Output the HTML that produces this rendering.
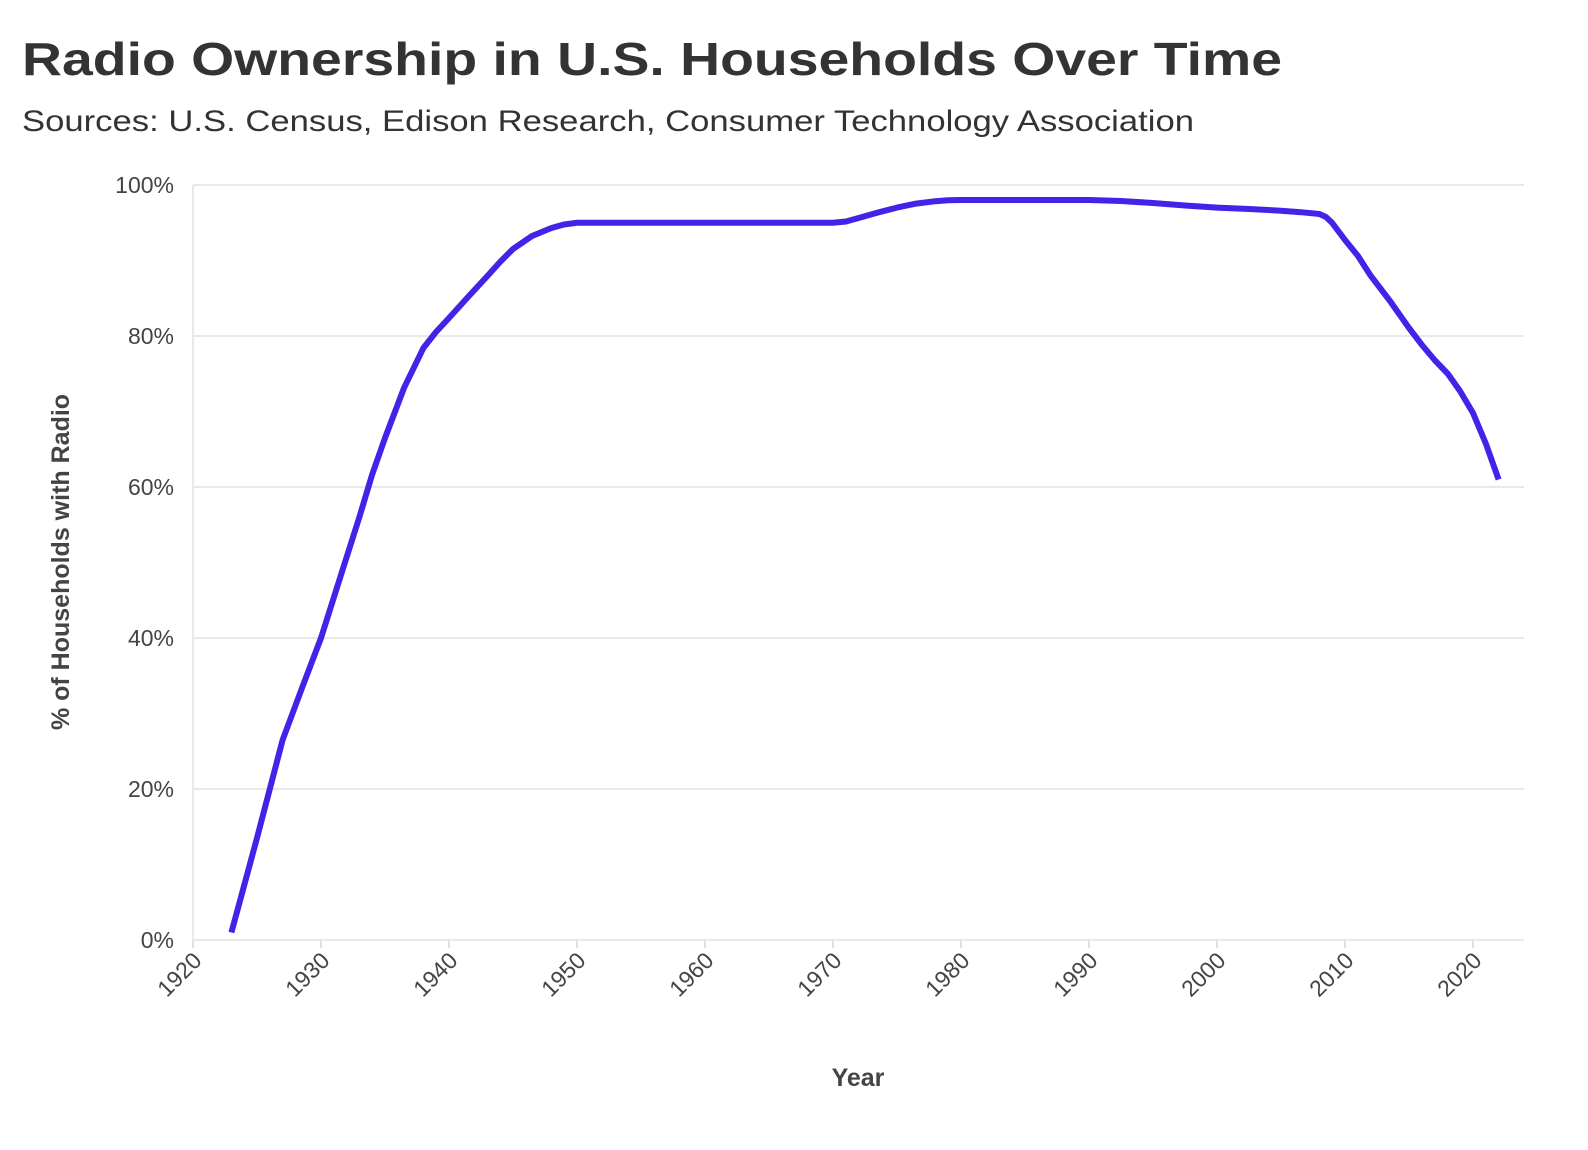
<!DOCTYPE html>
<html><head><meta charset="utf-8"><style>
body{margin:0;background:#fff;}
svg{display:block;font-family:"Liberation Sans",sans-serif;}
</style></head><body>
<svg width="1588" height="1150" viewBox="0 0 1588 1150">
<text x="22" y="75" font-size="46" font-weight="bold" fill="#333" textLength="1260" lengthAdjust="spacingAndGlyphs">Radio Ownership in U.S. Households Over Time</text>
<text x="22" y="131" font-size="30" fill="#333" textLength="1172" lengthAdjust="spacingAndGlyphs">Sources: U.S. Census, Edison Research, Consumer Technology Association</text>
<g stroke="#e9e9e9" stroke-width="2">
<line x1="193" x2="1524" y1="185" y2="185"/>
<line x1="193" x2="1524" y1="336" y2="336"/>
<line x1="193" x2="1524" y1="487" y2="487"/>
<line x1="193" x2="1524" y1="638" y2="638"/>
<line x1="193" x2="1524" y1="789" y2="789"/>
<line x1="193" x2="1524" y1="940" y2="940"/>
<line x1="193" x2="193" y1="185" y2="940"/>
</g>
<g stroke="#e0e0e0" stroke-width="2">
<line x1="193" x2="193" y1="940" y2="948"/><line x1="321" x2="321" y1="940" y2="948"/>
<line x1="449" x2="449" y1="940" y2="948"/><line x1="577" x2="577" y1="940" y2="948"/>
<line x1="705" x2="705" y1="940" y2="948"/><line x1="833" x2="833" y1="940" y2="948"/>
<line x1="961" x2="961" y1="940" y2="948"/><line x1="1089" x2="1089" y1="940" y2="948"/>
<line x1="1217" x2="1217" y1="940" y2="948"/><line x1="1345" x2="1345" y1="940" y2="948"/>
<line x1="1473" x2="1473" y1="940" y2="948"/>
</g>
<g font-size="23" fill="#444" text-anchor="end">
<text x="174" y="193">100%</text><text x="174" y="344">80%</text><text x="174" y="495">60%</text>
<text x="174" y="646">40%</text><text x="174" y="797">20%</text><text x="174" y="948">0%</text>
</g>
<g font-size="23" fill="#444" text-anchor="end">
<text transform="translate(203,962) rotate(-45)">1920</text>
<text transform="translate(331,962) rotate(-45)">1930</text>
<text transform="translate(459,962) rotate(-45)">1940</text>
<text transform="translate(587,962) rotate(-45)">1950</text>
<text transform="translate(715,962) rotate(-45)">1960</text>
<text transform="translate(843,962) rotate(-45)">1970</text>
<text transform="translate(971,962) rotate(-45)">1980</text>
<text transform="translate(1099,962) rotate(-45)">1990</text>
<text transform="translate(1227,962) rotate(-45)">2000</text>
<text transform="translate(1355,962) rotate(-45)">2010</text>
<text transform="translate(1483,962) rotate(-45)">2020</text>
</g>
<text x="858" y="1086" font-size="25" font-weight="bold" fill="#444" text-anchor="middle">Year</text>
<text transform="translate(69,562) rotate(-90)" font-size="25" font-weight="bold" fill="#444" text-anchor="middle">% of Households with Radio</text>
<polyline fill="none" stroke="#4422e8" stroke-width="6" stroke-linejoin="round" stroke-linecap="butt"
points="231.4,932.5 257,838 282.6,740 302,688 321,638 340,578 359.4,517 372,475 385,438 404,388 423.4,348 436,332 449,318 468,297 487.4,276 500,262 513,249 532,236 551.4,228 564,224.5 577,222.75 833,222.75 846,221.5 858.6,218 878,212.5 897,207.6 916,203.6 935.4,201.2 948,200.2 961,200 1089,200 1121,201 1153,203 1185,205.5 1217,207.6 1249,209 1281,210.7 1301,212.2 1319.4,214 1326,217 1332,222.7 1345,240 1358,256 1370.6,275.6 1390,301 1409,328 1422,345 1434.6,360 1448,374 1460,391 1473,413 1486,444 1498.6,479.5"/>
</svg>
</body></html>
